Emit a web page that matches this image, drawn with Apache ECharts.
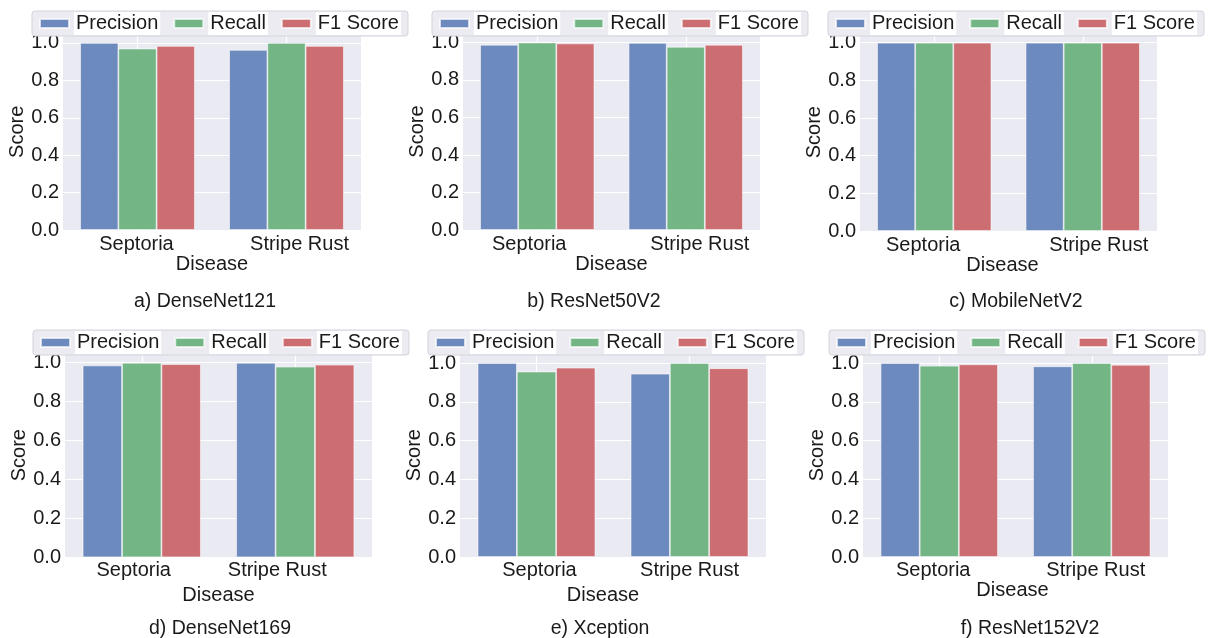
<!DOCTYPE html>
<html>
<head>
<meta charset="utf-8">
<script src="https://cdn.jsdelivr.net/npm/echarts@6/dist/echarts.min.js"></script>
<style>html,body{margin:0;padding:0;background:#fff}#c{width:1210px;height:638px}</style>
</head>
<body>
<div id="c"></div>
<script>
// ---- data ----
const categories = ['Septoria', 'Stripe Rust'];
const seriesNames = ['Precision', 'Recall', 'F1 Score'];
const panelTitles = ['a) DenseNet121', 'b) ResNet50V2', 'c) MobileNetV2', 'd) DenseNet169', 'e) Xception', 'f) ResNet152V2'];
const xAxisTitle = 'Disease';
const yAxisTitle = 'Score';

const densenet121Precision = [1.000, 0.963];
const densenet121Recall    = [0.970, 1.000];
const densenet121F1        = [0.984, 0.984];

const resnet50v2Precision = [0.988, 0.998];
const resnet50v2Recall    = [1.000, 0.977];
const resnet50v2F1        = [0.995, 0.988];

const mobilenetv2Precision = [1.000, 1.000];
const mobilenetv2Recall    = [1.000, 1.000];
const mobilenetv2F1        = [1.000, 1.000];

const densenet169Precision = [0.986, 1.000];
const densenet169Recall    = [1.000, 0.980];
const densenet169F1        = [0.993, 0.990];

const xceptionPrecision = [1.000, 0.945];
const xceptionRecall    = [0.956, 1.000];
const xceptionF1        = [0.976, 0.973];

const resnet152v2Precision = [1.000, 0.983];
const resnet152v2Recall    = [0.986, 1.000];
const resnet152v2F1        = [0.993, 0.991];

const panelValues = [
  [densenet121Precision, densenet121Recall, densenet121F1],
  [resnet50v2Precision, resnet50v2Recall, resnet50v2F1],
  [mobilenetv2Precision, mobilenetv2Recall, mobilenetv2F1],
  [densenet169Precision, densenet169Recall, densenet169F1],
  [xceptionPrecision, xceptionRecall, xceptionF1],
  [resnet152v2Precision, resnet152v2Recall, resnet152v2F1]
];

// ---- layout / style ----
const FONT = 'Liberation Sans, Arial, sans-serif';
const TXT = '#1a1a1a';
const colors = ['#6c8abd', '#73b584', '#cc6d72'];
const grids = [
  {left: 63,  top: 33.6,  width: 298, height: 196.4},
  {left: 463, top: 33.1,  width: 297, height: 196.9},
  {left: 860, top: 33.3,  width: 297, height: 197.7},
  {left: 65,  top: 353.0, width: 307, height: 204.3},
  {left: 460, top: 353.3, width: 306, height: 203.7},
  {left: 863, top: 353.3, width: 305, height: 203.7}
];
const legendPos = [[32, 11], [432, 11], [828, 11], [33, 330], [428, 330], [829, 330]];
const labelShift = [[-1, 13], [-8, 14], [-11, 16], [-8, -18], [3, 0], [-6, 4]];
const labelMargin = [4, 4, 4, 3, 3, 3];
const nameGapX = [24, 24, 24, 28, 28, 23];
const nameShiftX = [0, 0, -6, 0, -10, -3];
const captionPos = [[205, 302], [594, 302], [1016, 302], [220, 629], [600, 629], [1030, 629]];

const option = {
  backgroundColor: '#ffffff',
  animation: false,
  textStyle: {fontFamily: FONT},
  grid: [], xAxis: [], yAxis: [], series: [], legend: [], graphic: []
};

grids.forEach((g, i) => {
  option.grid.push(Object.assign({show: true, backgroundColor: '#eaeaf2', borderWidth: 0, containLabel: false}, g));
  const ns = nameShiftX[i];
  option.xAxis.push({
    type: 'category', gridIndex: i,
    data: categories.map((c, k) => {
      const s = labelShift[i][k];
      return {value: c, textStyle: {padding: s >= 0 ? [0, 0, 0, 2 * s] : [0, -2 * s, 0, 0]}};
    }),
    axisLine: {show: false}, axisTick: {show: false},
    axisLabel: {color: TXT, fontSize: 20, fontFamily: FONT, margin: labelMargin[i]},
    splitLine: {show: true, alignWithLabel: true, lineStyle: {color: '#ffffff', width: 1.2}},
    name: xAxisTitle, nameLocation: 'middle', nameGap: nameGapX[i],
    nameTextStyle: {color: TXT, fontSize: 20, fontFamily: FONT,
      padding: ns >= 0 ? [0, 0, 0, 2 * ns] : [0, -2 * ns, 0, 0]}
  });
  option.yAxis.push({
    type: 'value', gridIndex: i, min: 0, max: 1.05, interval: 0.2,
    axisLine: {show: false}, axisTick: {show: false},
    axisLabel: {color: TXT, fontSize: 20, fontFamily: FONT, margin: 4, showMaxLabel: false,
      formatter: v => (Math.abs(v / 0.2 - Math.round(v / 0.2)) < 1e-6 ? v.toFixed(1) : '')},
    splitLine: {show: true, lineStyle: {color: '#ffffff', width: 1.2}},
    name: yAxisTitle, nameLocation: 'middle', nameGap: 36, nameRotate: 90,
    nameTextStyle: {color: TXT, fontSize: 20, fontFamily: FONT}
  });
  seriesNames.forEach((n, k) => {
    option.series.push({
      type: 'bar', name: n, xAxisIndex: i, yAxisIndex: i,
      data: panelValues[i][k],
      barGap: 0, barCategoryGap: '23%',
      itemStyle: {color: colors[k], borderColor: 'rgba(255,255,255,0.7)', borderWidth: 0.8},
      emphasis: {disabled: true}
    });
  });
  option.legend.push({
    left: legendPos[i][0], top: legendPos[i][1],
    data: seriesNames, icon: 'rect', itemWidth: 29, itemHeight: 9, itemGap: 13,
    backgroundColor: '#ebebf1', borderColor: '#d4d4dc', borderWidth: 1, borderRadius: 3,
    padding: [1, 7],
    textStyle: {color: TXT, fontSize: 20, fontFamily: FONT, backgroundColor: '#ffffff', padding: [1, 2], lineHeight: 21},
    selectedMode: false
  });
  option.graphic.push({
    type: 'text', x: captionPos[i][0], y: captionPos[i][1],
    style: {text: panelTitles[i], fontSize: 19.5, fontFamily: FONT, fill: TXT,
      align: 'center', verticalAlign: 'middle', textAlign: 'center', textVerticalAlign: 'middle'}
  });
});

const chart = echarts.init(document.getElementById('c'), null, {renderer: 'canvas'});
chart.setOption(option);
</script>
</body>
</html>
